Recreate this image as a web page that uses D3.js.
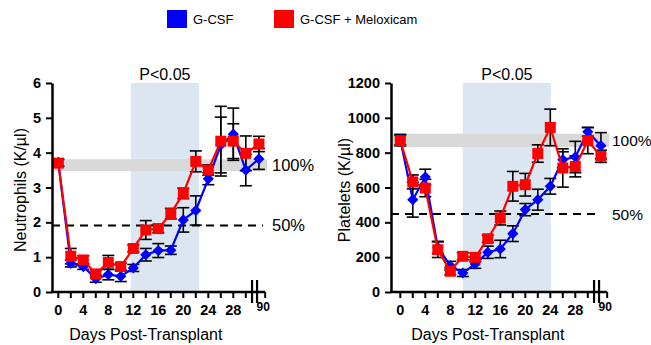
<!DOCTYPE html>
<html>
<head>
<meta charset="utf-8">
<script src="https://cdn.jsdelivr.net/npm/d3@7"></script>
<style>
  body { margin: 0; background: #fff; }
  text { font-family: "Liberation Sans", Arial, sans-serif; }
</style>
</head>
<body>
<svg id="chart" width="651" height="345"></svg>
<script>
// days sampled; the last one (90) sits after the axis break
var days = [0, 2, 4, 6, 8, 10, 12, 14, 16, 18, 20, 22, 24, 26, 28, 30, 90];
var xTickLabels = [0, 4, 8, 12, 16, 20, 24, 28];

var neutGcsf      = [3.72, 0.82, 0.73, 0.38, 0.50, 0.45, 0.69, 1.07, 1.19, 1.20, 2.07, 2.34, 3.25, 4.22, 4.53, 3.50, 3.82];
var neutGcsfErr   = [0.10, 0.10, 0.08, 0.10, 0.15, 0.15, 0.10, 0.18, 0.20, 0.12, 0.35, 0.42, 0.17, 0.80, 0.75, 0.45, 0.30];
var neutMelox     = [3.70, 1.03, 0.92, 0.52, 0.85, 0.73, 1.25, 1.78, 1.82, 2.25, 2.83, 3.75, 3.50, 4.33, 4.33, 3.98, 4.25];
var neutMeloxErr  = [0.10, 0.22, 0.12, 0.10, 0.20, 0.10, 0.10, 0.27, 0.12, 0.15, 0.15, 0.30, 0.15, 1.00, 0.50, 0.50, 0.22];

var plateGcsf     = [875, 530, 660, 256, 151, 109, 161, 228, 247, 335, 473, 530, 607, 760, 775, 920, 840];
var plateGcsfErr  = [30, 100, 45, 35, 25, 20, 25, 35, 50, 45, 35, 60, 45, 45, 90, 25, 75];
var plateMelox    = [869, 632, 597, 243, 119, 205, 199, 306, 425, 607, 616, 795, 945, 712, 721, 869, 779];
var plateMeloxErr = [30, 40, 50, 45, 20, 20, 25, 20, 40, 85, 65, 50, 105, 110, 60, 75, 35];

var seriesNames = ["G-CSF", "G-CSF + Meloxicam"];
var seriesColors = ["#0000ff", "#ff0000"];

var svg = d3.select("#chart");

// legend
var legendX = [167, 274];
seriesNames.forEach(function(name, i) {
    svg.append("rect")
        .attr("x", legendX[i]).attr("y", 10)
        .attr("width", 20).attr("height", 18)
        .attr("fill", seriesColors[i]);
    svg.append("text")
        .attr("x", legendX[i] + 26).attr("y", 24)
        .attr("font-size", 13)
        .text(name);
});

function drawPanel(cfg)
{
    var x = d3.scaleLinear().domain([0, 28]).range([cfg.x0, cfg.x0 + 175]);
    var y = d3.scaleLinear().domain([0, cfg.yMax]).range([292, 83]);
    // day 90 drawn just past the break
    var xp = function(d) { return d == 90 ? x(32.1) : x(d); };
    var axisLeft = cfg.axisX, axisRight = x(33.1);

    var g = svg.append("g");

    // significance window
    g.append("rect")
        .attr("x", x(cfg.shade[0])).attr("y", 83)
        .attr("width", x(cfg.shade[1]) - x(cfg.shade[0]))
        .attr("height", 292 - 83)
        .attr("fill", "#dce6f1");
    g.append("text")
        .attr("x", (x(cfg.shade[0]) + x(cfg.shade[1])) / 2).attr("y", 80)
        .attr("text-anchor", "middle").attr("font-size", 16)
        .text("P<0.05");

    // 100% band and 50% line
    g.append("rect")
        .attr("x", axisLeft).attr("y", y(cfg.band[1]))
        .attr("width", axisRight - axisLeft + 2)
        .attr("height", y(cfg.band[0]) - y(cfg.band[1]))
        .attr("fill", "#d9d9d9");
    g.append("line")
        .attr("x1", axisLeft).attr("x2", cfg.dashEnd)
        .attr("y1", y(cfg.half)).attr("y2", y(cfg.half))
        .attr("stroke", "#000").attr("stroke-width", 2)
        .attr("stroke-dasharray", "8,6");
    g.append("text")
        .attr("x", cfg.pctX).attr("y", y((cfg.band[0] + cfg.band[1]) / 2) + 6)
        .attr("font-size", cfg.pctSize).text("100%");
    g.append("text")
        .attr("x", cfg.pctX).attr("y", y(cfg.half) + 6)
        .attr("font-size", cfg.pctSize).text("50%");

    // error bars
    cfg.series.forEach(function(s) {
        var eb = g.append("g").attr("stroke", "#000").attr("stroke-width", 1.6);
        days.forEach(function(d, i) {
            var cx = xp(d), lo = y(s.values[i] - s.err[i]), hi = y(s.values[i] + s.err[i]);
            eb.append("line").attr("x1", cx).attr("x2", cx).attr("y1", lo).attr("y2", hi);
            eb.append("line").attr("x1", cx - 6).attr("x2", cx + 6).attr("y1", lo).attr("y2", lo);
            eb.append("line").attr("x1", cx - 6).attr("x2", cx + 6).attr("y1", hi).attr("y2", hi);
        });
    });

    // lines + markers
    cfg.series.forEach(function(s) {
        var line = d3.line()
            .x(function(d, i) { return xp(days[i]); })
            .y(function(d) { return y(d); });
        g.append("path")
            .attr("d", line(s.values))
            .attr("fill", "none")
            .attr("stroke", s.color).attr("stroke-width", 2.2);
        g.selectAll(null)
            .data(s.values)
            .enter().append("path")
            .attr("transform", function(d, i) { return "translate(" + xp(days[i]) + "," + y(d) + ")"; })
            .attr("d", d3.symbol().type(s.shape).size(s.size))
            .attr("fill", s.color);
    });

    // y axis
    var yAxis = d3.axisLeft(y).tickValues(cfg.yTicks).tickFormat(d3.format("d"))
        .tickSize(6).tickPadding(5).tickSizeOuter(0);
    var ya = g.append("g").attr("transform", "translate(" + axisLeft + ",0)").call(yAxis);
    ya.select(".domain").attr("stroke-width", 2.5);
    ya.selectAll(".tick line").attr("stroke-width", 2);
    ya.selectAll("text").attr("font-size", 14.5).attr("font-weight", "bold")
        .attr("font-family", "Liberation Sans, Arial, sans-serif");

    // x axis
    var xa = g.append("g");
    xa.append("line")
        .attr("x1", axisLeft - 1).attr("x2", axisRight)
        .attr("y1", 292).attr("y2", 292)
        .attr("stroke", "#000").attr("stroke-width", 2.5);
    d3.range(0, 31, 2).concat([33.1]).forEach(function(d) {
        xa.append("line")
            .attr("x1", x(d)).attr("x2", x(d))
            .attr("y1", 292).attr("y2", 298)
            .attr("stroke", "#000").attr("stroke-width", 2);
    });
    [31.0, 31.8].forEach(function(d) {
        xa.append("line")
            .attr("x1", x(d)).attr("x2", x(d))
            .attr("y1", 280).attr("y2", 303)
            .attr("stroke", "#000").attr("stroke-width", 2.2);
    });
    xTickLabels.forEach(function(d) {
        xa.append("text")
            .attr("x", x(d)).attr("y", 315)
            .attr("text-anchor", "middle").attr("font-size", 14.5).attr("font-weight", "bold")
            .text(d);
    });
    xa.append("text")
        .attr("x", x(32.8)).attr("y", 311)
        .attr("text-anchor", "middle").attr("font-size", 12).attr("font-weight", "bold")
        .text("90");

    // axis titles
    g.append("text")
        .attr("x", x(14)).attr("y", 340)
        .attr("text-anchor", "middle").attr("font-size", 16)
        .text("Days Post-Transplant");
    g.append("text")
        .attr("transform", "translate(" + cfg.titleX + ",190) rotate(-90)")
        .attr("text-anchor", "middle").attr("font-size", 16)
        .text(cfg.title);
}

drawPanel({
    x0: 58.3, axisX: 52, yMax: 6, yTicks: [0, 1, 2, 3, 4, 5, 6],
    shade: [11.6, 22.5], band: [3.47, 3.81], half: 1.91,
    dashEnd: 263, pctX: 272, pctSize: 16.5, titleX: 26,
    title: "Neutrophils (K/µl)",
    series: [
        { values: neutGcsf, err: neutGcsfErr, color: seriesColors[0], shape: d3.symbolDiamond2, size: 80 },
        { values: neutMelox, err: neutMeloxErr, color: seriesColors[1], shape: d3.symbolSquare, size: 120 }
    ]
});

drawPanel({
    x0: 400.3, axisX: 391, yMax: 1200, yTicks: [0, 200, 400, 600, 800, 1000, 1200],
    shade: [10.0, 24.1], band: [832, 909], half: 448,
    dashEnd: 598, pctX: 612, pctSize: 15.5, titleX: 350,
    title: "Platelets (K/µl)",
    series: [
        { values: plateGcsf, err: plateGcsfErr, color: seriesColors[0], shape: d3.symbolDiamond2, size: 80 },
        { values: plateMelox, err: plateMeloxErr, color: seriesColors[1], shape: d3.symbolSquare, size: 120 }
    ]
});
</script>
</body>
</html>
